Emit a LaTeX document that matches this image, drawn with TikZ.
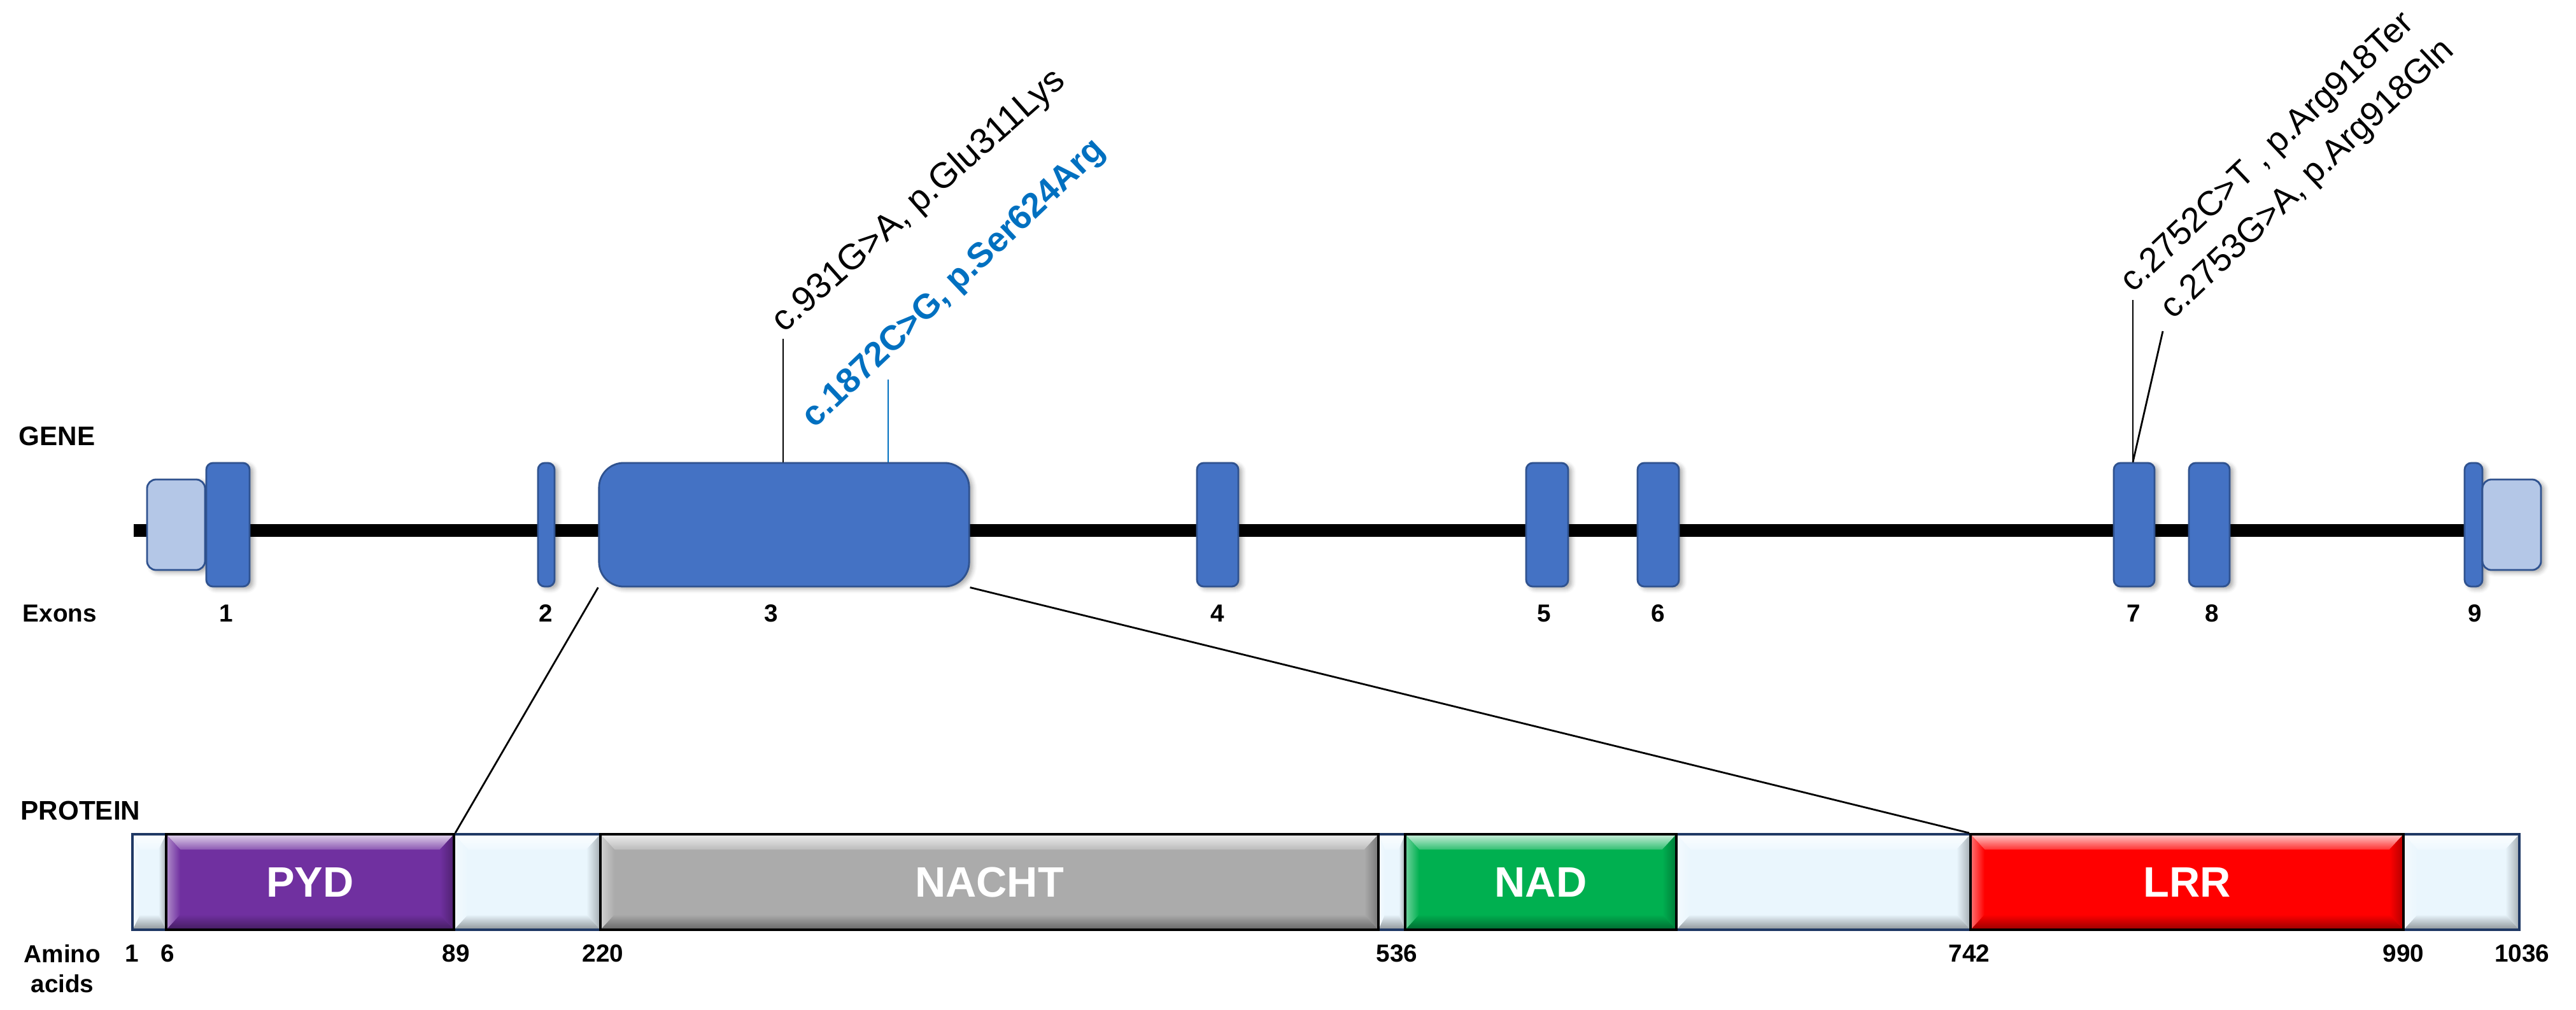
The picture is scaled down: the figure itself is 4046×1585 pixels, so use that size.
\documentclass[tikz,border=0pt]{standalone}
\usepackage{fontspec}
\setmainfont{Liberation Sans}
\usetikzlibrary{calc,shadows.blur}

\definecolor{exonblue}{HTML}{4472C4}
\definecolor{exonedge}{HTML}{2F528F}
\definecolor{utrblue}{HTML}{B4C7E7}
\definecolor{segpale}{HTML}{EAF6FD}
\definecolor{segedge}{HTML}{1F3864}
\definecolor{pydpurple}{HTML}{7030A0}
\definecolor{nachtgray}{HTML}{ABABAB}
\definecolor{nadgreen}{HTML}{00B050}
\definecolor{lrrred}{HTML}{FF0000}
\definecolor{mutblue}{HTML}{0070C0}

% one pixel of the figure in pt
\newcommand{\px}{0.28453pt}

% bevelled fill of a protein segment: x1, x2, colour, side bevel
\newcommand{\bevel}[4]{%
  \fill[#3] (#1,1310) rectangle (#2,1460);
  \shade[top color=#3!20!white, bottom color=#3!80!white]
    (#1,1310) -- (#2,1310) -- (#2-#4,1334) -- (#1+#4,1334) -- cycle;
  \shade[top color=#3, bottom color=#3!60!black]
    (#1,1460) -- (#2,1460) -- (#2-#4,1436) -- (#1+#4,1436) -- cycle;
  \shade[left color=#3!55!white, right color=#3]
    (#1,1310) -- (#1+#4,1334) -- (#1+#4,1436) -- (#1,1460) -- cycle;
  \shade[left color=#3, right color=#3!70!black]
    (#2,1310) -- (#2-#4,1334) -- (#2-#4,1436) -- (#2,1460) -- cycle;
}

\tikzset{
  exon/.style={draw=exonedge, fill=exonblue, line width=0.8pt, rounded corners=3pt,
    minimum height={194*\px}, inner sep=0pt,
    blur shadow={shadow xshift=1.5pt, shadow yshift=-1pt, shadow blur radius=2pt, shadow opacity=35}},
  utr/.style={exon, fill=utrblue, minimum height={142*\px}, rounded corners=4pt},
  lbl/.style={font=\bfseries\fontsize{11}{13.4}\selectfont, inner sep=0pt},
  head/.style={font=\bfseries\fontsize{12}{14}\selectfont, inner sep=0pt, anchor=west},
  mut/.style={font=\fontsize{15.5}{18}\selectfont, rotate=43.5, anchor=base west, inner sep=0pt},
  segbox/.style={draw=#1, line width=1.1pt, minimum height={150*\px}, inner sep=0pt,
    font=\bfseries\fontsize{19}{22}\selectfont, text=white},
  link/.style={line width=0.8pt},
}

\begin{document}
\begin{tikzpicture}[x=0.01cm, y=-0.01cm]
\useasboundingbox (0,0) rectangle (4046,1585);

% gene
\node[head] (gene) at (29,685) {GENE};
\node[lbl, anchor=west] (exons) at (35,963) {Exons};
\coordinate (gs) at (210,833);
\coordinate (ge) at (3985,833);
\draw[line width=5.7pt] (gs) -- (ge);

\node[utr, minimum width={91*\px}] (utr5) at (276.5,824) {};
\foreach \n/\xa/\xb in {1/324/392, 2/845/871, 4/1880/1945, 5/2397/2463,
                        6/2572/2637, 7/3320/3384, 8/3438/3502, 9/3871/3899}
  \node[exon, minimum width={(\xb-\xa)*\px}] (ex\n) at ({(\xa+\xb)/2},824) {};
\node[exon, rounded corners=11pt, minimum width={581*\px}] (ex3) at (1231.5,824) {};
\node[utr, minimum width={92*\px}] (utr3) at (3945,824) {};

\foreach \n/\x in {1/355, 2/857, 3/1211, 4/1912, 5/2425, 6/2604, 7/3351, 8/3474, 9/3887}
  \node[lbl] (num\n) at (\x,963) {\n};

% variants
\coordinate (m1) at (1230,532);
\coordinate (m2) at (1395,596);
\coordinate (m3) at (3350,471);
\coordinate (m4) at (3397,520);
\draw[line width=0.8pt] (m1) -- (m1 |- ex3.north);
\draw[mutblue, line width=0.6pt] (m2) -- (m2 |- ex3.north);
\draw[line width=0.8pt] (m3) -- (m3 |- ex7.north);
\draw[line width=0.8pt] (m4) -- (m3 |- ex7.north);
\node[mut, rotate=-2, font=\fontsize{16}{18}\selectfont] (v1) at (1231,524) {c.931G>A, p.Glu311Lys};
\node[mut, text=mutblue, font=\bfseries\fontsize{15.5}{18}\selectfont] (v2) at (1279,674) {c.1872C>G, p.Ser624Arg};
\node[mut] (v3) at (3350,461) {c.2752C>T , p.Arg918Ter};
\node[mut] (v4) at (3413,503) {c.2753G>A, p.Arg918Gln};

% protein
\node[head] (prot) at (32,1273) {PROTEIN};
\bevel{208}{261}{segpale}{12}
\bevel{261}{713}{pydpurple}{22}
\bevel{713}{943}{segpale}{22}
\bevel{943}{2165}{nachtgray}{22}
\bevel{2165}{2207}{segpale}{10}
\bevel{2207}{2633}{nadgreen}{22}
\bevel{2633}{3095}{segpale}{22}
\bevel{3095}{3775}{lrrred}{22}
\bevel{3775}{3957}{segpale}{22}
\node[segbox=segedge, minimum width={53*\px}] (s0) at (234.5,1385) {};
\node[segbox=segedge, minimum width={230*\px}] (s1) at (828,1385) {};
\node[segbox=segedge, minimum width={42*\px}] (s2) at (2186,1385) {};
\node[segbox=segedge, minimum width={462*\px}] (s3) at (2864,1385) {};
\node[segbox=segedge, minimum width={182*\px}] (s4) at (3866,1385) {};
\node[segbox=black, minimum width={452*\px}] (pyd) at (487,1385) {PYD};
\node[segbox=black, minimum width={1222*\px}] (nacht) at (1554,1385) {NACHT};
\node[segbox=black, minimum width={426*\px}] (nad) at (2420,1385) {NAD};
\node[segbox=black, minimum width={680*\px}] (lrr) at (3435,1385) {LRR};

\draw[link] (ex3.south west) -- (pyd.north east);
\draw[link] (ex3.south east) -- (lrr.north west);

\node[lbl, align=center] (aa) at (98,1521) {Amino\\acids};
\foreach \a/\x in {1/207, 6/263, 89/716, 220/947, 536/2194, 742/3093, 990/3775, 1036/3961}
  \node[lbl] (aa\a) at (\x,1497) {\a};
\end{tikzpicture}
\end{document}
